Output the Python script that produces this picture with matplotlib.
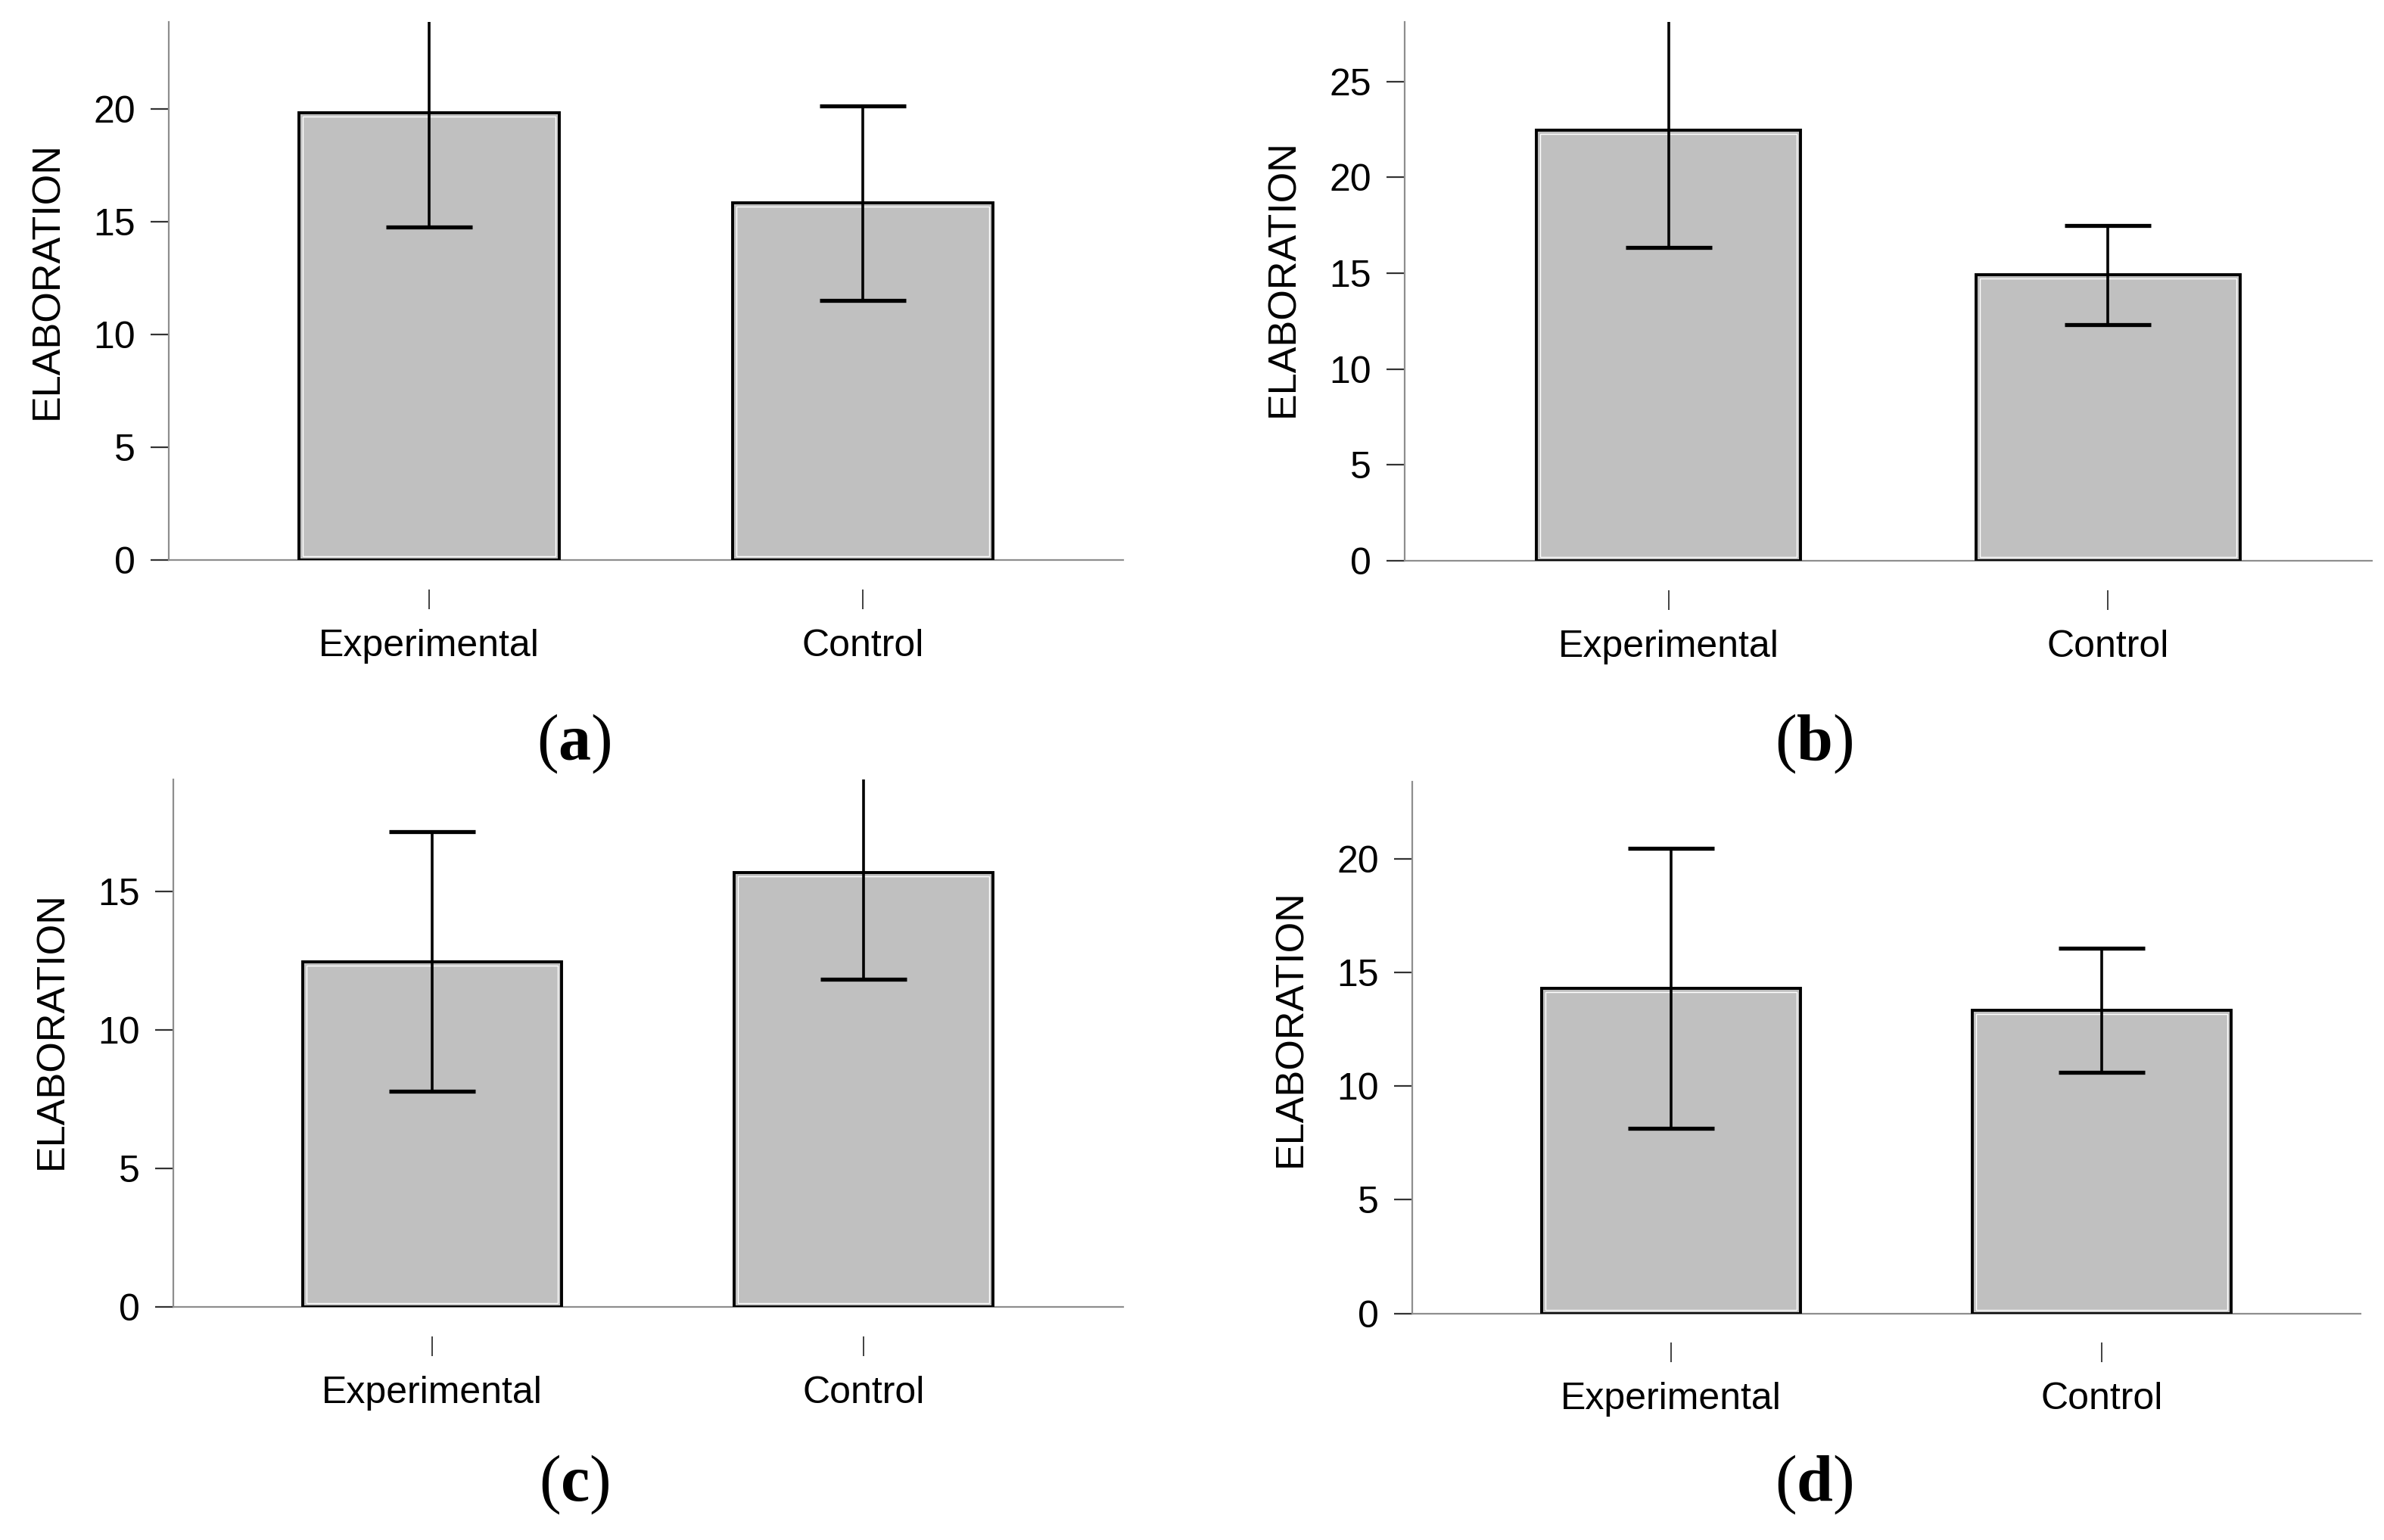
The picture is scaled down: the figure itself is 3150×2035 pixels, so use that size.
import matplotlib
matplotlib.use("Agg")
import matplotlib.pyplot as plt
from matplotlib.patches import Rectangle

# ---- data ----
groups = ["Experimental", "Control"]
means_a = [19.83, 15.82]
err_a = [5.07, 4.31]
means_b = [22.45, 14.91]
err_b = [6.12, 2.58]
means_c = [12.48, 15.69]
err_c = [4.70, 3.86]
means_d = [14.32, 13.35]
err_d = [6.16, 2.73]
ytop = [23.85, 28.1, 19.06, 23.4]
yticks_list = [[0, 5, 10, 15, 20], [0, 5, 10, 15, 20, 25], [0, 5, 10, 15], [0, 5, 10, 15, 20]]
panel_labels = ["a", "b", "c", "d"]
ylabel = "ELABORATION"

plt.rcParams["font.family"] = ["Liberation Sans", "DejaVu Sans"]
plt.rcParams["mathtext.fontset"] = "custom"
plt.rcParams["mathtext.rm"] = "Liberation Serif"
plt.rcParams["mathtext.bf"] = "Liberation Serif:bold"

W, H = 3150, 2035
DPI = 100
fig = plt.figure(figsize=(W / DPI, H / DPI), dpi=DPI)

# axes boxes in pixels: left, right, bottom(y=0), top
boxes = [(223, 1484, 740, 29), (1856, 3134, 741, 29),
         (229, 1483.5, 1727, 1030), (1866, 3119, 1735.5, 1033)]
ylab_y = [0.52, 0.524, 0.524, 0.537]
label_pos = [(0.2408, 0.5165), (0.761, 0.5165), (0.241, 0.0354), (0.761, 0.0354)]
all_means = [means_a, means_b, means_c, means_d]
all_err = [err_a, err_b, err_c, err_d]

GRAY = "#8e8e8e"
x = [0, 1]
bw = 0.6
for i, (l, r, b, t) in enumerate(boxes):
    ax = fig.add_axes([l / W, 1 - b / H, (r - l) / W, (b - t) / H])
    ax.set_xlim(-0.6, 1.6)
    ax.set_ylim(0, ytop[i])
    m = all_means[i]
    e = all_err[i]
    ax.bar(x, m, width=bw, color="#c0c0c0", edgecolor="black", linewidth=2.8, zorder=2)
    # thin inner highlight
    pxx = (r - l) / 2.2
    pxy = (b - t) / ytop[i]
    ix = 5 / pxx
    iy = 5 / pxy
    for xi, mi in zip(x, m):
        ax.add_patch(Rectangle((xi - bw / 2 + ix, iy), bw - 2 * ix, mi - 2 * iy,
                               facecolor="none", edgecolor="white", linewidth=1.0, zorder=2.5))
    ax.errorbar(x, m, yerr=e, fmt="none", ecolor="black", elinewidth=2.6,
                capsize=41, capthick=3.8, zorder=3)
    ax.axhline(0, color=GRAY, lw=1.6, zorder=1, clip_on=False)
    for s in ["top", "right"]:
        ax.spines[s].set_visible(False)
    ax.spines["left"].set_color(GRAY)
    ax.spines["left"].set_linewidth(1.6)
    ax.spines["bottom"].set_position(("outward", 28))
    ax.spines["bottom"].set_color("none")
    ax.set_xticks(x)
    ax.set_xticklabels(groups)
    ax.set_yticks(yticks_list[i])
    ax.tick_params(axis="x", direction="out", length=18.5, width=1.3, color="#333333",
                   pad=19, labelsize=36)
    ax.tick_params(axis="y", direction="out", length=17.5, width=1.6, color="#333333",
                   pad=14, labelsize=36)
    ax.set_ylabel(ylabel, fontsize=37.5, va="center")
    ax.yaxis.set_label_coords(-160 / (r - l), ylab_y[i])
    px, py = label_pos[i]
    fig.text(px, py, r"$\mathrm{(}\mathbf{%s}\mathrm{)}$" % panel_labels[i],
             fontsize=62, ha="center", va="center")

fig.savefig("out.png", dpi=DPI, facecolor="white")
